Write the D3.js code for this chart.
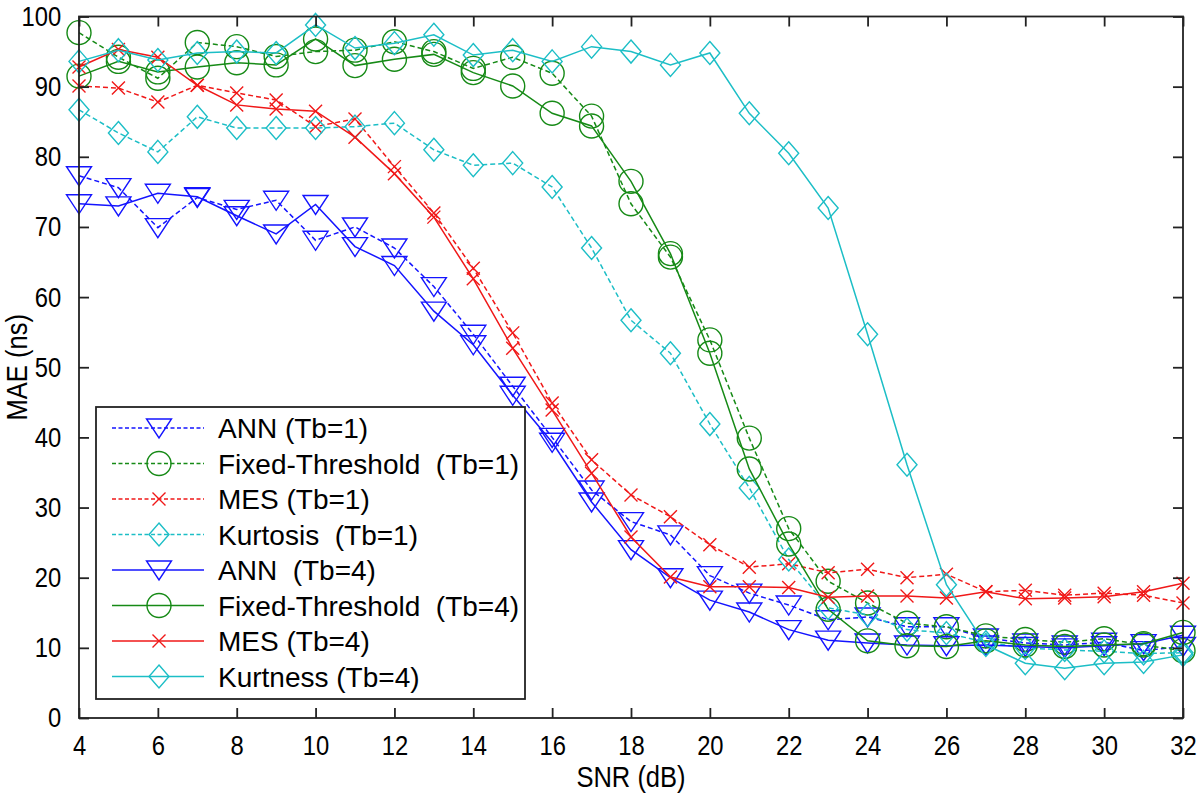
<!DOCTYPE html>
<html><head><meta charset="utf-8">
<script src="https://cdn.jsdelivr.net/npm/d3@7"></script>
<style>body{margin:0;background:#fff}svg{display:block}text{font-family:"Liberation Sans",Arial,Helvetica,sans-serif;fill:#000}</style>
</head><body><svg id="c" width="1200" height="796"></svg>
<script>
const snr = [4,5,6,7,8,9,10,11,12,13,14,15,16,17,18,19,20,21,22,23,24,25,26,27,28,29,30,31,32];
const annTb1  = [77.3,75.6,69.9,74.2,72.5,73.8,68.1,70.0,67.0,61.5,54.7,47.3,40.0,32.5,28.0,26.1,20.3,17.8,16.1,14.0,14.4,13.0,13.0,11.4,10.7,10.4,10.8,9.6,10.2];
const ftTb1   = [97.7,94.2,91.2,96.3,95.7,94.3,95.0,95.2,96.4,95.0,92.6,94.2,91.9,85.8,73.3,65.7,53.9,39.9,27.0,19.5,16.4,13.5,13.0,11.7,11.2,10.8,11.3,10.4,9.6];
const mesTb1  = [90.1,89.8,87.8,90.2,89.1,88.1,84.3,85.4,78.6,72.0,64.1,54.9,44.9,36.8,31.8,28.7,24.7,21.5,22.0,20.7,21.2,20.0,20.5,18.0,18.2,17.5,17.8,17.5,16.4];
const kurtTb1 = [86.7,83.4,80.7,85.7,84.1,84.1,84.1,84.3,84.8,81.0,78.8,79.1,75.7,67.0,56.7,52.0,41.9,32.8,22.6,15.7,14.7,12.6,12.1,10.8,10.0,9.7,9.5,9.2,9.3];
const annTb4  = [73.3,73.0,74.8,74.3,71.6,69.0,73.2,67.2,64.5,58.0,53.2,46.0,39.3,30.8,24.0,20.0,16.8,15.1,12.6,11.1,10.7,10.4,10.3,10.4,10.2,10.0,10.3,10.6,11.8];
const ftTb4   = [91.5,93.6,92.1,92.8,93.4,93.1,96.8,93.0,93.9,94.6,92.0,90.1,86.2,84.4,76.5,66.2,52.0,35.5,24.8,15.5,11.0,10.3,10.2,11.0,10.4,10.2,10.4,10.6,12.2];
const mesTb4  = [92.8,95.3,94.2,90.2,87.4,86.8,86.5,82.8,77.6,71.4,62.6,52.7,43.9,34.9,25.8,20.1,18.7,18.7,18.6,17.2,17.4,17.4,17.1,18.0,17.0,17.1,17.3,18.0,19.2];
const kurtTb4 = [93.6,95.2,93.8,94.8,95.0,94.8,98.8,95.5,96.2,97.4,94.5,95.2,93.6,95.7,95.0,93.1,94.8,86.2,80.5,72.7,54.7,36.1,19.0,10.4,7.8,7.1,7.8,8.0,9.0];
const xTicks = [4,6,8,10,12,14,16,18,20,22,24,26,28,30,32];
const yTicks = [0,10,20,30,40,50,60,70,80,90,100];
const seriesNames = ["ANN (Tb=1)","Fixed-Threshold  (Tb=1)","MES (Tb=1)","Kurtosis  (Tb=1)","ANN  (Tb=4)","Fixed-Threshold  (Tb=4)","MES (Tb=4)","Kurtness (Tb=4)"];
const xLabel = "SNR (dB)";
const yLabel = "MAE (ns)";

const series = [
  {name:seriesNames[0], v:annTb1,  color:"#1414ff", dash:true,  m:"tri"},
  {name:seriesNames[1], v:ftTb1,   color:"#168a16", dash:true,  m:"circ"},
  {name:seriesNames[2], v:mesTb1,  color:"#f01818", dash:true,  m:"x"},
  {name:seriesNames[3], v:kurtTb1, color:"#1cbec6", dash:true,  m:"dia"},
  {name:seriesNames[4], v:annTb4,  color:"#1414ff", dash:false, m:"tri"},
  {name:seriesNames[5], v:ftTb4,   color:"#168a16", dash:false, m:"circ"},
  {name:seriesNames[6], v:mesTb4,  color:"#f01818", dash:false, m:"x"},
  {name:seriesNames[7], v:kurtTb4, color:"#1cbec6", dash:false, m:"dia"}
];

const W=1200,H=796, L=79, R=1183, T=16.5, B=718;
const svg = d3.select("#c");
const x = d3.scaleLinear().domain([4,32]).range([L,R]);
const y = d3.scaleLinear().domain([0,100]).range([B,T]);

function markerPath(m){
  if(m==="tri") return "M-12.5,-9L12.5,-9L0,10Z";
  if(m==="circ") return "M12,0A12,12 0 1,1 -12,0A12,12 0 1,1 12,0Z";
  if(m==="dia") return "M0,-11.5L10,0L0,11.5L-10,0Z";
  return "M-6.5,-6.5L6.5,6.5M-6.5,6.5L6.5,-6.5";
}

const plot = svg.append("g");
const line = d3.line().x((d,i)=>x(snr[i])).y(d=>y(d));
series.forEach(s=>{
  const g = plot.append("g");
  g.append("path").attr("d", line(s.v)).attr("fill","none").attr("stroke",s.color)
   .attr("stroke-width",1.5).attr("stroke-dasharray", s.dash?"5,3":null);
  g.selectAll("path.mk").data(s.v).enter().append("path").attr("class","mk")
   .attr("d", markerPath(s.m)).attr("transform",(d,i)=>`translate(${x(snr[i])},${y(d)})`)
   .attr("fill","none").attr("stroke",s.color).attr("stroke-width",1.4);
});

// axes box & ticks
const ax = svg.append("g");
ax.append("rect").attr("x",L).attr("y",T).attr("width",R-L).attr("height",B-T)
  .attr("fill","none").attr("stroke","#222").attr("stroke-width",1.8);
const xb = d3.axisBottom(x).tickValues(xTicks).tickSize(-10).tickPadding(17).tickFormat(d3.format("d"));
const xt = d3.axisTop(x).tickValues(xTicks).tickSize(-10).tickFormat("");
const yl = d3.axisLeft(y).tickValues(yTicks).tickSize(-10).tickPadding(21).tickFormat(d3.format("d"));
const yr = d3.axisRight(y).tickValues(yTicks).tickSize(-10).tickFormat("");
function styleAxis(g){g.select(".domain").remove();g.selectAll("line").attr("stroke","#222").attr("stroke-width",1.8);
  g.selectAll("text").attr("font-size",28).attr("font-family","Liberation Sans, Arial, sans-serif").attr("fill","#000")
   .attr("transform","scale(0.85,1)");}
ax.append("g").attr("transform",`translate(0,${B})`).call(xb).call(styleAxis);
ax.append("g").attr("transform",`translate(0,${T})`).call(xt).call(styleAxis);
ax.append("g").attr("transform",`translate(${L},0)`).call(yl).call(styleAxis);
ax.append("g").attr("transform",`translate(${R},0)`).call(yr).call(styleAxis);

svg.append("text").attr("transform",`translate(${(L+R)/2},787) scale(0.88,1)`).attr("text-anchor","middle").attr("font-size",29).text(xLabel);
svg.append("text").attr("transform",`translate(27,${(T+B)/2}) rotate(-90) scale(0.88,1)`).attr("text-anchor","middle").attr("font-size",29).text(yLabel);

// legend
const lg = svg.append("g");
const lx0=96, ly0=407, lw=429, lh=292;
lg.append("rect").attr("x",lx0).attr("y",ly0).attr("width",lw).attr("height",lh).attr("fill","#fff").attr("stroke","#222").attr("stroke-width",1.8);
series.forEach((s,i)=>{
  const cy = 428 + i*35.5;
  lg.append("line").attr("x1",112).attr("x2",204).attr("y1",cy).attr("y2",cy).attr("stroke",s.color)
    .attr("stroke-width",1.5).attr("stroke-dasharray", s.dash?"4,2.5":null);
  lg.append("path").attr("d",markerPath(s.m)).attr("transform",`translate(159,${cy})`).attr("fill","none").attr("stroke",s.color).attr("stroke-width",1.4);
  lg.append("text").attr("x",218).attr("y",cy+10).attr("font-size",28).style("white-space","pre").text(s.name);
});
</script></body></html>
